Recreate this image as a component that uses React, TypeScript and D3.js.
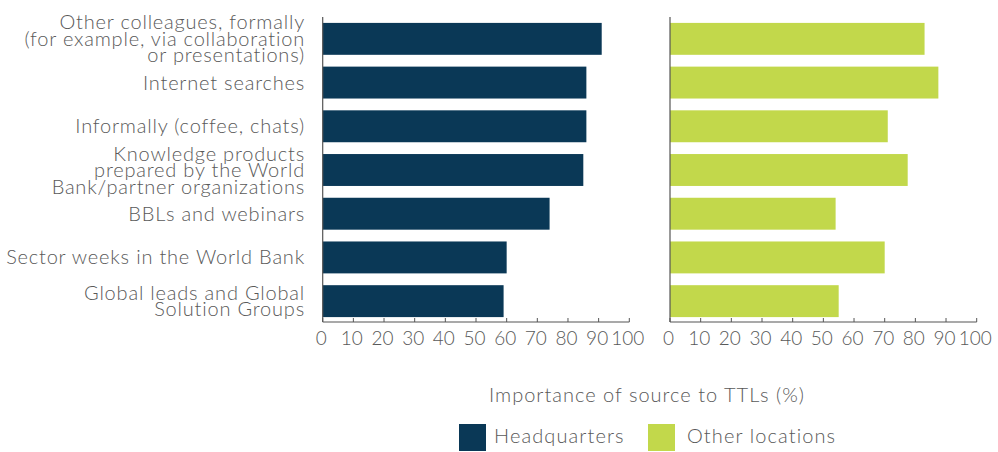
import React from "react";
import * as d3 from "d3";

const categories: string[][] = [
  ["Other colleagues, formally", "(for example, via collaboration", "or presentations)"],
  ["Internet searches"],
  ["Informally (coffee, chats)"],
  ["Knowledge products", "prepared by the World", "Bank/partner organizations"],
  ["BBLs and webinars"],
  ["Sector weeks in the World Bank"],
  ["Global leads and Global", "Solution Groups"],
];
const headquarters = [91, 86, 86, 85, 74, 60, 59];
const otherLocations = [83, 87.5, 71, 77.5, 54, 70, 55];
const ticks = [0, 10, 20, 30, 40, 50, 60, 70, 80, 90, 100];
const seriesNames = ["Headquarters", "Other locations"];
const axisTitle = "Importance of source to TTLs (%)";

const NAVY = "#0a3856";
const GREEN = "#c2d84b";
const TEXT = "#595959";
const FONT = "Lato, 'Open Sans', sans-serif";

export default function App() {
  const W = 998;
  const H = 452;
  const axisY = 322;
  const ids = categories.map((_, i) => String(i));
  const y = d3.scaleBand<string>().domain(ids).range([17, 323]).paddingInner(0.27).paddingOuter(0.135);
  const xL = d3.scaleLinear().domain([0, 100]).range([322.7, 629.3]);
  const xR = d3.scaleLinear().domain([0, 100]).range([670, 976.7]);
  const panels = [
    { x: xL, values: headquarters, color: NAVY },
    { x: xR, values: otherLocations, color: GREEN },
  ];
  const lh = 16.5;
  return (
    <svg width={W} height={H} style={{ position: "absolute", left: 0, top: 0 }} fontFamily={FONT}>
      <rect width={W} height={H} fill="#fff" />
      {categories.map((lines, i) => {
        const cy = y(String(i))! + y.bandwidth() / 2;
        const n = lines.length;
        return (
          <text key={i} textAnchor="end" fill={TEXT} fontSize={20} fontWeight={300} letterSpacing={0.8}>
            {lines.map((ln, j) => (
              <tspan key={j} x={305} y={cy + 7 + (j - (n - 1) / 2) * lh}>
                {ln}
              </tspan>
            ))}
          </text>
        );
      })}
      {panels.map((p, pi) => (
        <g key={pi}>
          {p.values.map((v, i) => (
            <rect
              key={i}
              x={p.x(0)}
              y={y(String(i))}
              width={p.x(v) - p.x(0)}
              height={y.bandwidth()}
              fill={p.color}
            />
          ))}
          <line x1={p.x(0)} x2={p.x(0)} y1={17} y2={axisY} stroke="#555" strokeWidth={1.2} />
          <line x1={p.x(0)} x2={p.x(100)} y1={axisY} y2={axisY} stroke="#555" strokeWidth={1.2} />
          {ticks.map((t) => (
            <g key={t}>
              <line x1={p.x(t)} x2={p.x(t)} y1={axisY} y2={axisY - 4} stroke="#555" strokeWidth={1} />
              <text x={p.x(t) - 1.5} y={345} textAnchor="middle" fill={TEXT} fontSize={19} fontWeight={300}>
                {t}
              </text>
            </g>
          ))}
        </g>
      ))}
      <text x={647} y={402} textAnchor="middle" fill={TEXT} fontSize={20} fontWeight={300} letterSpacing={1}>
        {axisTitle}
      </text>
      {seriesNames.map((s, i) => {
        const lx = [459, 648][i];
        return (
          <g key={s}>
            <rect x={lx} y={424} width={27} height={27} fill={[NAVY, GREEN][i]} />
            <text x={lx + 35 + i * 4} y={443} fill={TEXT} fontSize={20} fontWeight={300} letterSpacing={1.1}>
              {s}
            </text>
          </g>
        );
      })}
    </svg>
  );
}
